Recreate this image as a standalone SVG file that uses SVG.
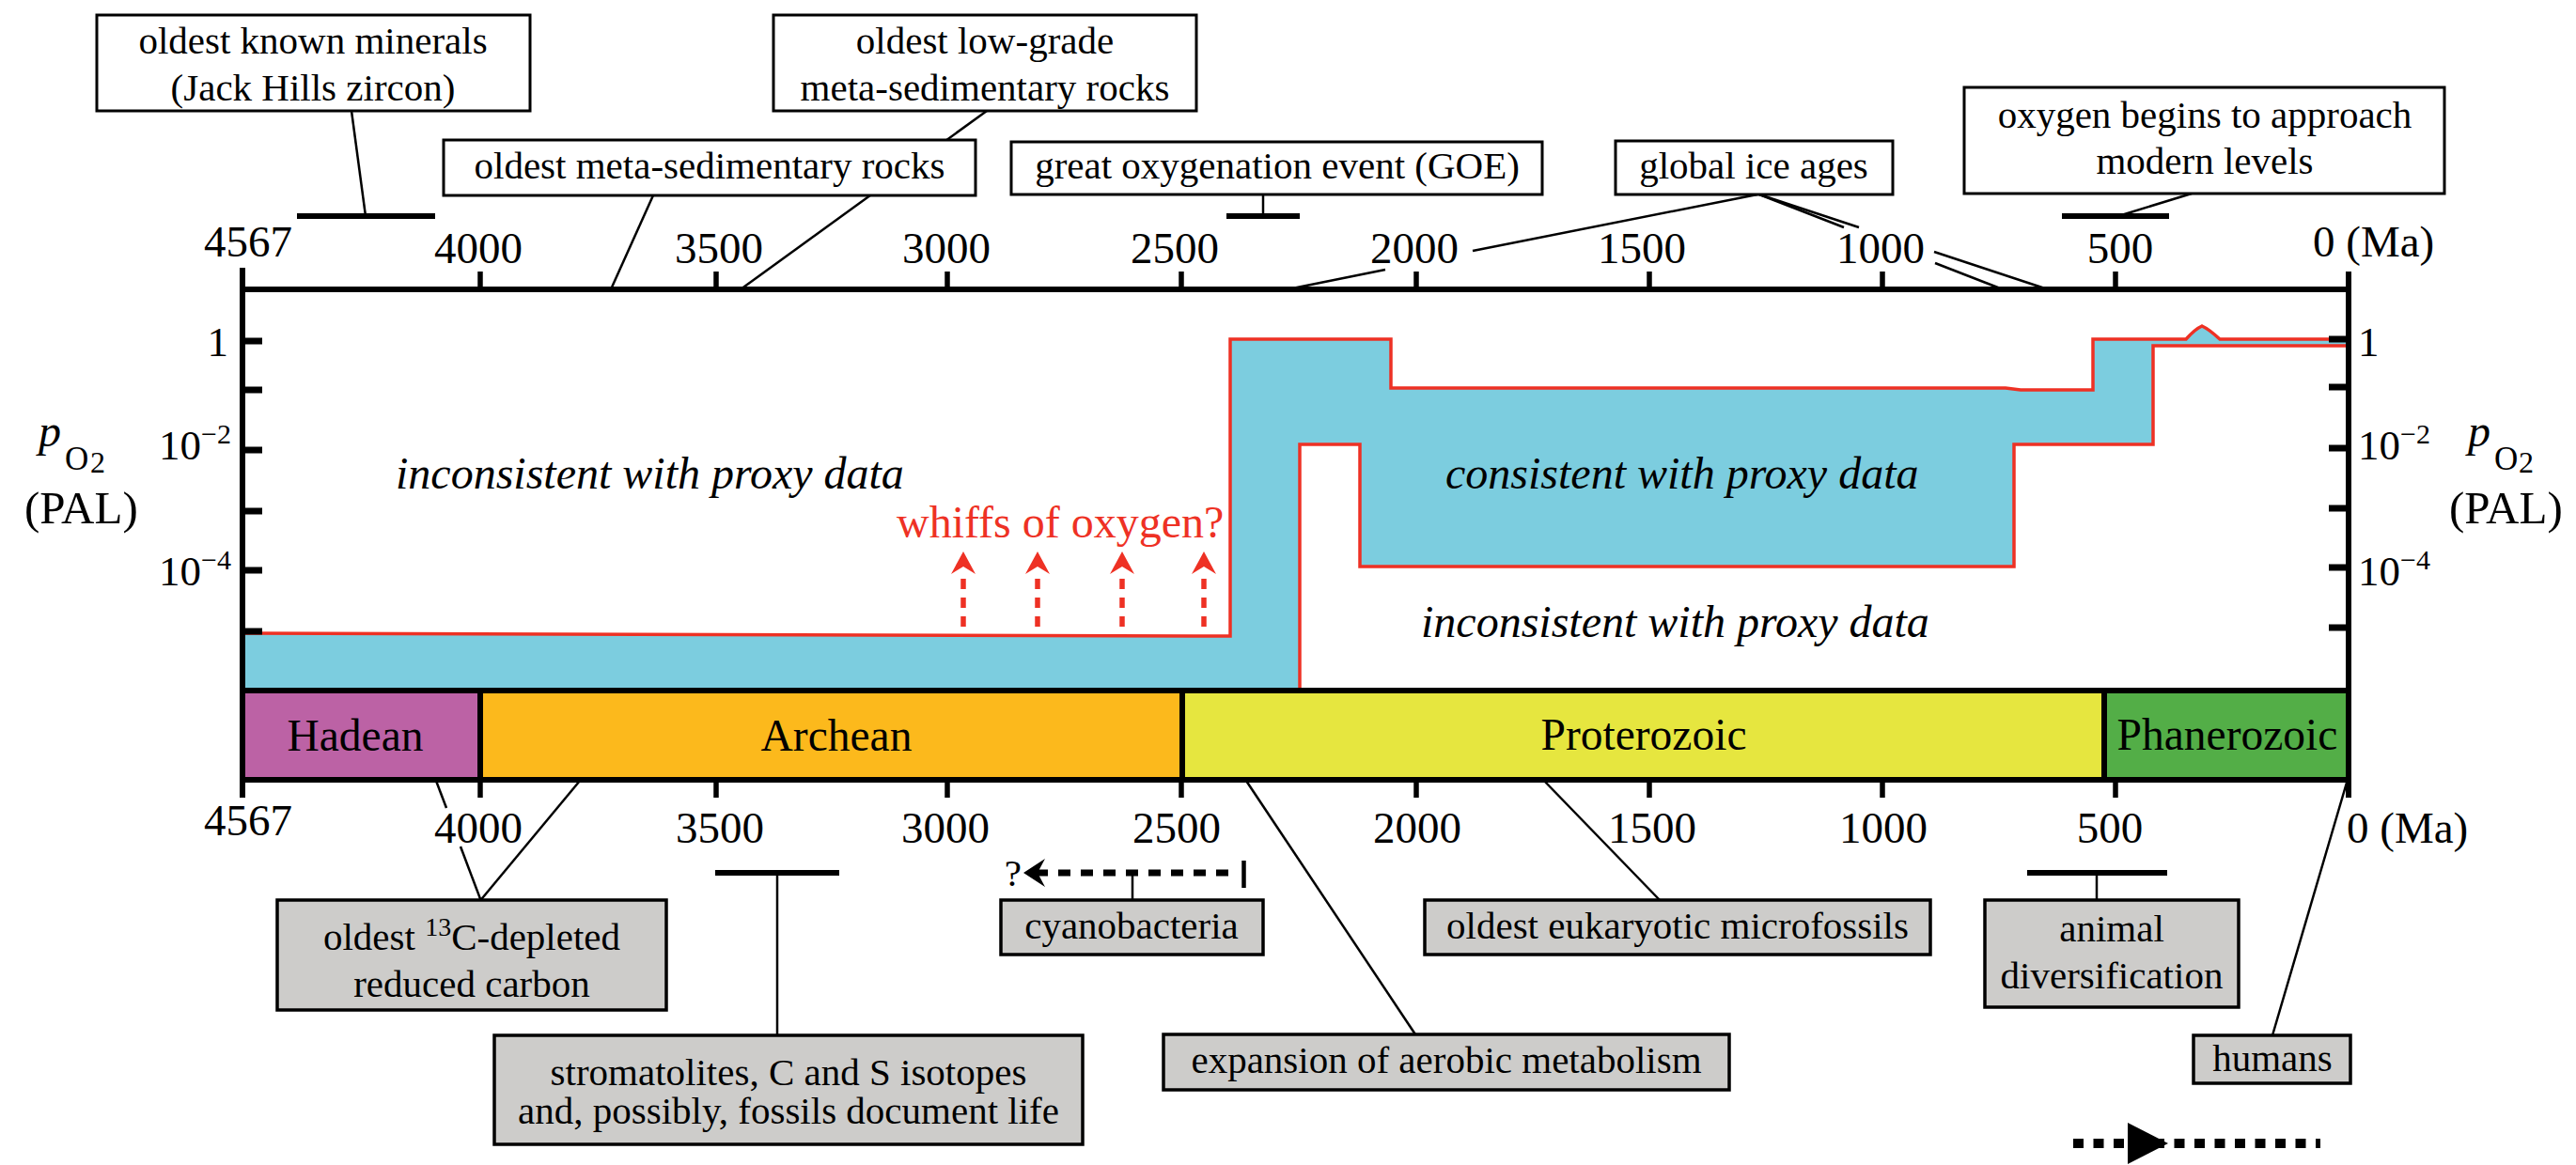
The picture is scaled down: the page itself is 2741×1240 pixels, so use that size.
<svg xmlns="http://www.w3.org/2000/svg" width="2741" height="1240" viewBox="0 0 2741 1240">
<style>
text{font-family:"Liberation Serif","Times New Roman",serif;fill:#000}
.ax{font-size:47px;text-anchor:middle}
.bx{font-size:41px;text-anchor:middle}
.era{font-size:47.5px;text-anchor:middle}
.yl{font-size:45px}
.it{font-size:48px;font-style:italic}
.tb{fill:#fff;stroke:#000;stroke-width:3}
.bb{fill:#cdccca;stroke:#000;stroke-width:3.5}
.cn{stroke:#000;stroke-width:2.5;fill:none}
.bar{stroke:#000;stroke-width:6}
.axl{stroke:#000;stroke-width:6;fill:none}
.tk{stroke:#000;stroke-width:5.5}
.ytk{stroke:#000;stroke-width:7}
.red{stroke:#ee3124;stroke-width:3.5;fill:none}
</style>
<rect width="2741" height="1240" fill="#fff"/>

<!-- oxygen band -->
<g id="band">
<path d="M258,674 L1309,677 L1309,361 L1480,361 L1480,413 L2134,413 L2150,415 L2227,415 L2227,361 L2326,361 Q2336,350 2343,347 Q2350,350 2362,361 L2499,361 L2499,368 L2291,368 L2291,473 L2143,473 L2143,603 L1447,603 L1447,473 L1383,473 L1383,735 L258,735 Z" fill="#7ccddf"/>
<path class="red" d="M260,674 L1309,677 L1309,361 L1480,361 L1480,413 L2134,413 L2150,415 L2227,415 L2227,361 L2326,361 Q2336,350 2343,347 Q2350,350 2362,361 L2497,361"/>
<path class="red" d="M2497,368 L2291,368 L2291,473 L2143,473 L2143,603 L1447,603 L1447,473 L1383,473 L1383,733"/>
</g>

<!-- region labels -->
<g id="region-labels">
<text class="it" x="421" y="520">inconsistent with proxy data</text>
<text class="it" x="1538" y="520">consistent with proxy data</text>
<text class="it" x="1512" y="678">inconsistent with proxy data</text>
</g>

<!-- whiffs -->
<g id="whiffs">
<text x="954" y="572" font-size="48" style="fill:#ee3124">whiffs of oxygen?</text>
<g stroke="#ee3124" stroke-width="5.5" stroke-dasharray="11 9" fill="none">
<line x1="1025" y1="616" x2="1025" y2="676"/>
<line x1="1104" y1="616" x2="1104" y2="676"/>
<line x1="1194" y1="616" x2="1194" y2="676"/>
<line x1="1281" y1="616" x2="1281" y2="676"/>
</g>
<g fill="#ee3124">
<path d="M1025,587 L1038,611 L1025,603 L1012,611 Z"/>
<path d="M1104,587 L1117,611 L1104,603 L1091,611 Z"/>
<path d="M1194,587 L1207,611 L1194,603 L1181,611 Z"/>
<path d="M1281,587 L1294,611 L1281,603 L1268,611 Z"/>
</g>
</g>

<!-- era bar -->
<g id="eras">
<rect x="258" y="735" width="253" height="95" fill="#bc62a5"/>
<rect x="511" y="735" width="747" height="95" fill="#fcb91c"/>
<rect x="1258" y="735" width="981" height="95" fill="#e6e63f"/>
<rect x="2239" y="735" width="260" height="95" fill="#53ae47"/>
<g class="axl">
<line x1="258" y1="735" x2="2499" y2="735"/>
<line x1="258" y1="830" x2="2499" y2="830"/>
<line x1="511" y1="735" x2="511" y2="830"/>
<line x1="1258" y1="735" x2="1258" y2="830"/>
<line x1="2239" y1="735" x2="2239" y2="830"/>
</g>
<text class="era" x="378" y="799">Hadean</text>
<text class="era" x="890" y="799">Archean</text>
<text class="era" x="1749" y="798">Proterozoic</text>
<text class="era" x="2370" y="798">Phanerozoic</text>
</g>

<!-- axes -->
<g id="axes">
<line class="axl" x1="255" y1="308" x2="2502" y2="308"/>
<line class="axl" x1="258" y1="285" x2="258" y2="849"/>
<line class="axl" x1="2499" y1="289" x2="2499" y2="849"/>
<g class="tk">
<line x1="511" y1="289" x2="511" y2="308"/>
<line x1="762" y1="289" x2="762" y2="308"/>
<line x1="1008" y1="289" x2="1008" y2="308"/>
<line x1="1257" y1="289" x2="1257" y2="308"/>
<line x1="1507" y1="289" x2="1507" y2="308"/>
<line x1="1755" y1="289" x2="1755" y2="308"/>
<line x1="2003" y1="289" x2="2003" y2="308"/>
<line x1="2251" y1="289" x2="2251" y2="308"/>
<line x1="511" y1="830" x2="511" y2="849"/>
<line x1="762" y1="830" x2="762" y2="849"/>
<line x1="1008" y1="830" x2="1008" y2="849"/>
<line x1="1257" y1="830" x2="1257" y2="849"/>
<line x1="1507" y1="830" x2="1507" y2="849"/>
<line x1="1755" y1="830" x2="1755" y2="849"/>
<line x1="2003" y1="830" x2="2003" y2="849"/>
<line x1="2251" y1="830" x2="2251" y2="849"/>
</g>
<g class="ytk">
<line x1="258" y1="363" x2="279" y2="363"/>
<line x1="258" y1="415" x2="279" y2="415"/>
<line x1="258" y1="479" x2="279" y2="479"/>
<line x1="258" y1="544" x2="279" y2="544"/>
<line x1="258" y1="607" x2="279" y2="607"/>
<line x1="258" y1="672" x2="279" y2="672"/>
<line x1="2478" y1="361" x2="2499" y2="361"/>
<line x1="2478" y1="412" x2="2499" y2="412"/>
<line x1="2478" y1="477" x2="2499" y2="477"/>
<line x1="2478" y1="541" x2="2499" y2="541"/>
<line x1="2478" y1="604" x2="2499" y2="604"/>
<line x1="2478" y1="668" x2="2499" y2="668"/>
</g>
<!-- top labels -->
<text class="ax" x="264" y="273">4567</text>
<text class="ax" x="509" y="280">4000</text>
<text class="ax" x="765" y="280">3500</text>
<text class="ax" x="1007" y="280">3000</text>
<text class="ax" x="1250" y="280">2500</text>
<text class="ax" x="1505" y="280">2000</text>
<text class="ax" x="1747" y="280">1500</text>
<text class="ax" x="2001" y="280">1000</text>
<text class="ax" x="2256" y="280">500</text>
<text x="2461" y="273" font-size="47">0 (Ma)</text>
<!-- bottom labels -->
<text class="ax" x="264" y="889">4567</text>
<text class="ax" x="509" y="897">4000</text>
<text class="ax" x="766" y="897">3500</text>
<text class="ax" x="1006" y="897">3000</text>
<text class="ax" x="1252" y="897">2500</text>
<text class="ax" x="1508" y="897">2000</text>
<text class="ax" x="1758" y="897">1500</text>
<text class="ax" x="2004" y="897">1000</text>
<text class="ax" x="2245" y="897">500</text>
<text x="2497" y="897" font-size="47">0 (Ma)</text>
<!-- y labels left -->
<text class="yl" x="243" y="379" text-anchor="end">1</text>
<text class="yl" x="246" y="489" text-anchor="end">10<tspan dy="-17" font-size="30">−2</tspan></text>
<text class="yl" x="246" y="623" text-anchor="end">10<tspan dy="-17" font-size="30">−4</tspan></text>
<!-- y labels right -->
<text class="yl" x="2509" y="379">1</text>
<text class="yl" x="2509" y="489">10<tspan dy="-17" font-size="30">−2</tspan></text>
<text class="yl" x="2509" y="623">10<tspan dy="-17" font-size="30">−4</tspan></text>
<!-- y titles -->
<text x="41" y="475" font-size="48" font-style="italic">p</text>
<text x="69" y="500" font-size="35">O</text>
<text x="96" y="503" font-size="32">2</text>
<text x="26" y="557" font-size="49">(PAL)</text>
<text x="2626" y="475" font-size="48" font-style="italic">p</text>
<text x="2654" y="500" font-size="35">O</text>
<text x="2680" y="503" font-size="32">2</text>
<text x="2606" y="557" font-size="49">(PAL)</text>
</g>

<!-- connectors -->
<g id="connectors">
<line class="cn" x1="374" y1="118" x2="389" y2="230"/>
<line class="bar" x1="316" y1="230" x2="463" y2="230"/>
<line class="cn" x1="1050" y1="118" x2="788" y2="308"/>
<line class="cn" x1="695" y1="208" x2="650" y2="308"/>
<line class="cn" x1="1344" y1="207" x2="1344" y2="230"/>
<line class="bar" x1="1305" y1="230" x2="1383" y2="230"/>
<line class="cn" x1="1870" y1="207" x2="1567" y2="267"/>
<line class="cn" x1="1474" y1="287" x2="1370" y2="308"/>
<line class="cn" x1="1872" y1="207" x2="1978" y2="242"/>
<line class="cn" x1="2058" y1="268" x2="2179" y2="308"/>
<line class="cn" x1="1872" y1="207" x2="1962" y2="242"/>
<line class="cn" x1="2059" y1="280" x2="2131" y2="308"/>
<line class="cn" x1="2332" y1="206" x2="2254" y2="230"/>
<line class="bar" x1="2194" y1="230" x2="2308" y2="230"/>
<line class="cn" x1="464" y1="831" x2="475" y2="860"/>
<line class="cn" x1="490" y1="901" x2="511.5" y2="958"/>
<line class="cn" x1="617" y1="831" x2="511.5" y2="958"/>
<line class="cn" x1="827" y1="929" x2="827" y2="1102"/>
<line class="bar" x1="761" y1="929" x2="893" y2="929"/>
<line class="cn" x1="1205" y1="929" x2="1205" y2="958"/>
<line x1="1102" y1="929" x2="1318" y2="929" stroke="#000" stroke-width="7" stroke-dasharray="13 11"/>
<line x1="1323.5" y1="916" x2="1323.5" y2="945" stroke="#000" stroke-width="4.5"/>
<path d="M1089,929 L1112,914 L1104,929 L1112,944 Z" fill="#000"/>
<text x="1087" y="943" font-size="41" text-anchor="end">?</text>
<line class="cn" x1="1643" y1="831" x2="1766" y2="958"/>
<line class="cn" x1="1326" y1="831" x2="1506" y2="1101"/>
<line class="cn" x1="2231" y1="929" x2="2231" y2="958"/>
<line class="bar" x1="2157" y1="929" x2="2306" y2="929"/>
<line class="cn" x1="2497" y1="833" x2="2418" y2="1102"/>
</g>

<!-- top boxes -->
<g id="n-minerals"><rect class="tb" x="103" y="16" width="461" height="102"/>
<text class="bx" x="333" y="57">oldest known minerals</text><text class="bx" x="333" y="107">(Jack Hills zircon)</text></g>
<g id="n-lowgrade"><rect class="tb" x="823" y="16" width="450" height="102"/>
<text class="bx" x="1048" y="57">oldest low-grade</text><text class="bx" x="1048" y="107">meta-sedimentary rocks</text></g>
<g id="n-metased"><rect class="tb" x="472" y="149" width="566" height="59"/>
<text class="bx" x="755" y="190">oldest meta-sedimentary rocks</text></g>
<g id="n-goe"><rect class="tb" x="1076" y="151" width="565" height="56"/>
<text class="bx" x="1359" y="190">great oxygenation event (GOE)</text></g>
<g id="n-ice"><rect class="tb" x="1719" y="150" width="295" height="57"/>
<text class="bx" x="1866" y="190">global ice ages</text></g>
<g id="n-modern"><rect class="tb" x="2090" y="93" width="511" height="113"/>
<text class="bx" x="2346" y="136">oxygen begins to approach</text><text class="bx" x="2346" y="185">modern levels</text></g>

<!-- bottom boxes -->
<g id="n-carbon"><rect class="bb" x="295" y="958" width="414" height="117"/>
<text class="bx" x="502" y="1011">oldest <tspan font-size="28" dy="-15">13</tspan><tspan dy="15">C-depleted</tspan></text><text class="bx" x="502" y="1061">reduced carbon</text></g>
<g id="n-strom"><rect class="bb" x="526" y="1102" width="626" height="116"/>
<text class="bx" x="839" y="1155">stromatolites, C and S isotopes</text><text class="bx" x="839" y="1196">and, possibly, fossils document life</text></g>
<g id="n-cyano"><rect class="bb" x="1065" y="958" width="279" height="58"/>
<text class="bx" x="1204" y="999">cyanobacteria</text></g>
<g id="n-euk"><rect class="bb" x="1516" y="958" width="538" height="58"/>
<text class="bx" x="1785" y="999">oldest eukaryotic microfossils</text></g>
<g id="n-aerobic"><rect class="bb" x="1238" y="1101" width="602" height="59"/>
<text class="bx" x="1539" y="1142">expansion of aerobic metabolism</text></g>
<g id="n-animal"><rect class="bb" x="2112" y="958" width="270" height="114"/>
<text class="bx" x="2247" y="1002">animal</text><text class="bx" x="2247" y="1052">diversification</text></g>
<g id="n-humans"><rect class="bb" x="2334" y="1102" width="167" height="51"/>
<text class="bx" x="2418" y="1140">humans</text></g>

<!-- legend arrow -->
<g id="legend-arrow">
<line x1="2206" y1="1217" x2="2469" y2="1217" stroke="#000" stroke-width="10" stroke-dasharray="11 10.5"/>
<path d="M2264,1195 L2307,1217 L2264,1239 Z" fill="#000"/>
</g>
</svg>
